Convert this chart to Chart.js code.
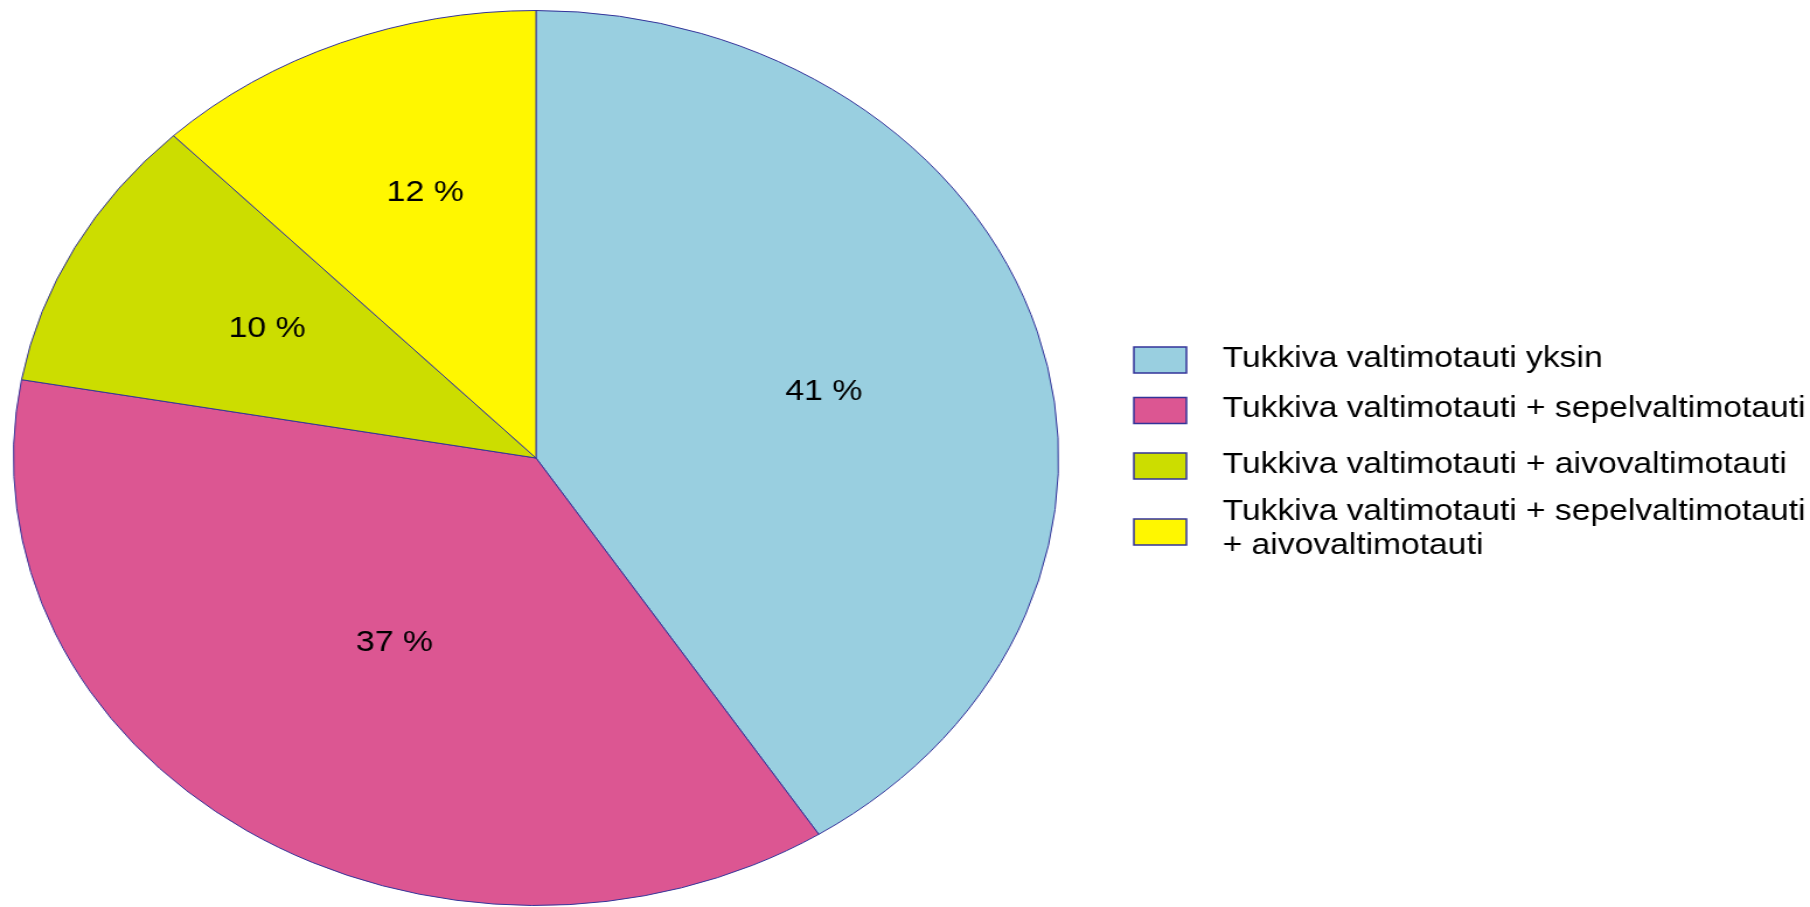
<!DOCTYPE html>
<html>
<head>
<meta charset="utf-8">
<script src="https://cdn.jsdelivr.net/npm/chart.js@4"></script>
<style>
  html, body { margin: 0; padding: 0; background: #ffffff; overflow: hidden; }
  #wrap { width: 1550px; height: 907px; transform: scaleX(1.16774); transform-origin: 0 0; }
  #c { display: block; }
</style>
</head>
<body>
<div id="wrap"><canvas id="c" width="1550" height="907" style="width:1550px;height:907px"></canvas></div>
<script>
const categories = [
  "Tukkiva valtimotauti yksin",
  "Tukkiva valtimotauti + sepelvaltimotauti",
  "Tukkiva valtimotauti + aivovaltimotauti",
  ["Tukkiva valtimotauti + sepelvaltimotauti", "+ aivovaltimotauti"]
];
const values = [40.9, 36.9, 10.0, 12.2];
const colors = ["#99CFE0", "#DC5692", "#CCDD00", "#FFF700"];
const borderColor = "#333399";
const FONT = "'Liberation Sans', Arial, sans-serif";

// style: placement of each value label (fraction of radius, angle nudge in degrees)
const labelRadiusFraction = [0.57, 0.495, 0.59, 0.63];
const labelAngleNudge = [1.5, -0.5, 1.2, 2.3];
// style: vertical gaps between legend rows
const legendRowGaps = [50.5, 55.5, 47];

const sliceLabels = {
  id: 'sliceLabels',
  afterDatasetsDraw(chart) {
    const ctx = chart.ctx;
    const meta = chart.getDatasetMeta(0);
    const data = chart.data.datasets[0].data;
    ctx.save();
    ctx.font = "29px " + FONT;
    ctx.fillStyle = "#000000";
    ctx.textAlign = "center";
    ctx.textBaseline = "middle";
    meta.data.forEach((arc, i) => {
      const p = arc.getProps(['x', 'y', 'startAngle', 'endAngle', 'outerRadius'], true);
      const mid = (p.startAngle + p.endAngle) / 2 + labelAngleNudge[i] * Math.PI / 180;
      const r = p.outerRadius * labelRadiusFraction[i];
      ctx.fillText(Math.round(data[i]) + " %", p.x + Math.cos(mid) * r, p.y + Math.sin(mid) * r);
    });
    ctx.restore();
  }
};

const sideLegend = {
  id: 'sideLegend',
  afterDraw(chart) {
    const ctx = chart.ctx;
    const labels = chart.data.labels;
    const ds = chart.data.datasets[0];
    const boxX = 971, boxW = 45, boxH = 26, textX = 1047;
    const lineH = 34;
    let center = 359;
    ctx.save();
    ctx.font = "28.8px " + FONT;
    ctx.textBaseline = "middle";
    ctx.textAlign = "left";
    labels.forEach((lab, i) => {
      const lines = Array.isArray(lab) ? lab : [lab];
      const boxC = center + (lines.length - 1) * lineH / 2 + (lines.length > 1 ? 3 : 1);
      ctx.fillStyle = ds.backgroundColor[i];
      ctx.fillRect(boxX, boxC - boxH / 2, boxW, boxH);
      ctx.lineWidth = 1.5;
      ctx.strokeStyle = borderColor;
      ctx.strokeRect(boxX, boxC - boxH / 2, boxW, boxH);
      ctx.fillStyle = "#000000";
      lines.forEach((t, k) => {
        ctx.fillText(t, textX, center + k * lineH);
      });
      center += (lines.length - 1) * lineH + (legendRowGaps[i] || 0);
    });
    ctx.restore();
  }
};

new Chart(document.getElementById('c'), {
  type: 'pie',
  data: {
    labels: categories,
    datasets: [{
      data: values,
      backgroundColor: colors,
      borderColor: borderColor,
      borderWidth: 1
    }]
  },
  options: {
    responsive: false,
    animation: false,
    layout: { padding: { left: 11, top: 10, bottom: 1, right: 643 } },
    plugins: {
      legend: { display: false },
      tooltip: { enabled: false }
    }
  },
  plugins: [sliceLabels, sideLegend]
});
</script>
</body>
</html>
